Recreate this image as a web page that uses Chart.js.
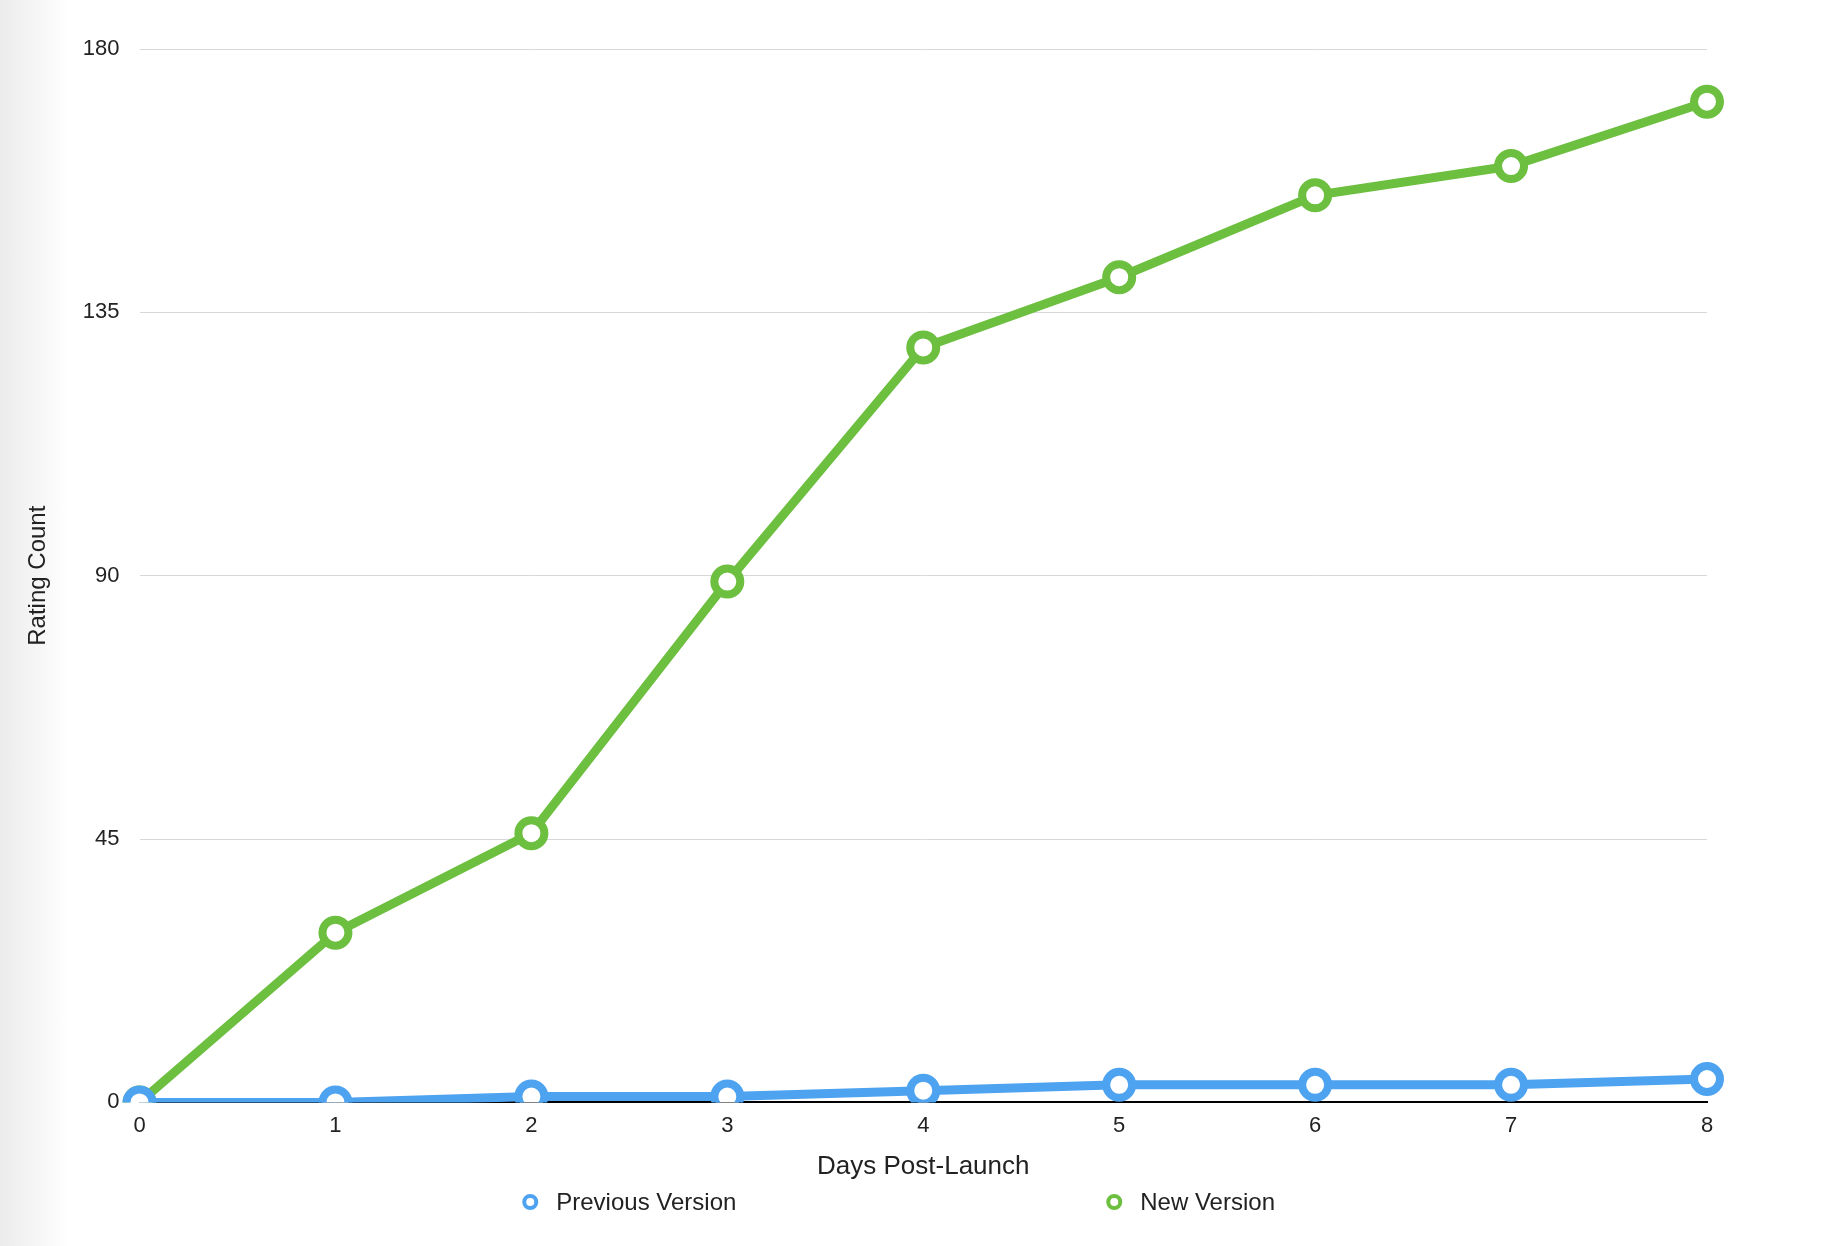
<!DOCTYPE html>
<html><head><meta charset="utf-8">
<script src="https://cdn.jsdelivr.net/npm/chart.js@4"></script>
<style>
html,body{margin:0;padding:0;background:#fff;}
#wrap{position:relative;width:1830px;height:1246px;background:linear-gradient(to right,#ececec 0px,#fff 70px);}
</style></head><body>
<div id="wrap"><canvas id="c" width="1830" height="1246"></canvas></div>
<script>
const days = ["0","1","2","3","4","5","6","7","8"];
const previousVersion = [0,0,1,1,2,3,3,3,4];
const newVersion = [0,29,46,89,129,141,155,160,171];
const yTicks = [0,45,90,135,180];
const font = "'Liberation Sans', Helvetica, Arial, sans-serif";
const blue = "#4ea3f0", green = "#6cbf3f";
function ds(label, data, color){
  return {label, data, borderColor:color, backgroundColor:"#fff", borderWidth:9,
    pointRadius:13, pointBorderWidth:8, pointBackgroundColor:"#fff", pointBorderColor:color,
    pointHoverRadius:13, tension:0};
}
const legendPlugin = {
  id:'customLegend',
  afterDraw(chart){
    const ctx = chart.ctx, a = chart.chartArea;
    const cx = (a.left + a.right)/2, y = 1202;
    const items = [[-393, blue, "Previous Version"], [191, green, "New Version"]];
    ctx.save();
    ctx.font = "24px " + font; ctx.textBaseline = 'middle'; ctx.fillStyle = '#222';
    for (const [dx, col, t] of items){
      ctx.beginPath(); ctx.arc(cx+dx, y, 6, 0, Math.PI*2);
      ctx.lineWidth = 4; ctx.strokeStyle = col; ctx.fillStyle = '#fff'; ctx.fill(); ctx.stroke();
      ctx.fillStyle = '#222'; ctx.fillText(t, cx+dx+26, y+1);
    }
    ctx.restore();
  }
};
new Chart(document.getElementById('c'), {
  type:'line',
  data:{labels:days, datasets:[ds("Previous Version",previousVersion,blue), ds("New Version",newVersion,green)]},
  options:{
    responsive:false, animation:false,
    layout:{padding:{left:20,right:123,top:49,bottom:64}},
    plugins:{ legend:{display:false}, tooltip:{enabled:false} },
    scales:{
      x:{grid:{display:false}, border:{color:'#000',width:2},
        ticks:{color:'#222', font:{family:font,size:22}, padding:2},
        title:{display:true,text:'Days Post-Launch',color:'#222',font:{family:font,size:26},padding:{top:10,bottom:0}}},
      y:{min:0,max:180, afterBuildTicks:a=>{a.ticks=yTicks.map(v=>({value:v}));},
        grid:{color:'#d8d8d8', lineWidth:1, drawTicks:false}, border:{display:false},
        ticks:{color:'#222', font:{family:font,size:22}, padding:20},
        title:{display:true,text:'Rating Count',color:'#222',font:{family:font,size:24},padding:{bottom:10}}}
    }
  },
  plugins:[legendPlugin]
});
</script>
</body></html>
